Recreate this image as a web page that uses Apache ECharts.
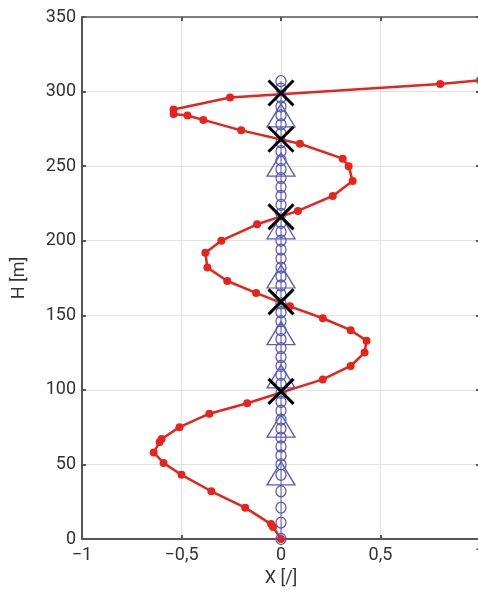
<!DOCTYPE html>
<html>
<head>
<meta charset="utf-8">
<script src="https://cdn.jsdelivr.net/npm/echarts@6/dist/echarts.min.js"></script>
<style>html,body{margin:0;padding:0;background:#fff;overflow:hidden}#c{width:478px;height:591px}</style>
</head>
<body>
<div id="c"></div>
<script>
// Red mode shape: height H [m] and displacement X [/]
const redH = [0, 8, 10, 21, 32, 43, 51, 58, 65, 67, 75, 84, 91, 107, 116, 125, 133, 140, 148, 156, 165, 173, 182, 192, 200, 211, 220, 230, 240, 250, 255, 265, 274, 281, 284, 285, 288, 296, 305, 307.5];
const redX = [0, -0.04, -0.05, -0.18, -0.35, -0.50, -0.59, -0.64, -0.61, -0.60, -0.51, -0.36, -0.17, 0.21, 0.35, 0.42, 0.43, 0.35, 0.21, 0.045, -0.125, -0.27, -0.37, -0.38, -0.30, -0.12, 0.085, 0.26, 0.36, 0.34, 0.31, 0.095, -0.20, -0.39, -0.47, -0.54, -0.54, -0.256, 0.80, 1.0];
// Blue circles (nodes) along the axis X = 0
const circleH = [0, 11, 21, 32, 43, 50, 56, 62, 68, 74, 80, 86, 92, 98, 104, 110, 116, 122, 128, 134, 140, 146, 152, 158, 164, 170, 176, 182, 188, 194, 200, 206, 212, 218, 224, 230, 236, 242, 248, 254, 260, 266, 272, 278, 284, 290, 296, 302, 307];
// Blue triangles
const triangleH = [44, 76, 109, 138, 176, 209, 251, 284];
// Black crosses
const crossH = [99, 159, 216, 268, 299];
const axisX = 0;
// Axis ticks
const xTicks = [-1, -0.5, 0, 0.5, 1];
const yTicks = [0, 50, 100, 150, 200, 250, 300, 350];

const fmt = v => String(v).replace('-', '\u2212').replace('.', ',');
const FONT = 'Roboto';
const BLUE = '#5a5ab8';
const chart = echarts.init(document.getElementById('c'), null, {renderer: 'canvas'});
const gridLine = {show: true, lineStyle: {color: '#e2e2e2', width: 1}};
chart.setOption({
  animation: false,
  backgroundColor: '#fff',
  grid: {left: 82, right: -2, top: 17, bottom: 52, containLabel: false, outerBoundsMode: 'none'},
  xAxis: [{
    type: 'value', min: xTicks[0], max: xTicks[xTicks.length - 1], interval: 0.5,
    position: 'bottom',
    name: 'X [/]', nameLocation: 'middle', nameGap: 30,
    nameTextStyle: {fontFamily: FONT, fontSize: 18, color: '#333'},
    axisLine: {show: true, onZero: false, lineStyle: {color: '#555', width: 2}},
    axisTick: {show: true, inside: true, length: 4, lineStyle: {color: '#555', width: 2}},
    axisLabel: {fontFamily: FONT, fontSize: 18, color: '#333', margin: 7, formatter: fmt,
                showMaxLabel: true, showMinLabel: true, hideOverlap: false},
    splitLine: gridLine
  }, {
    type: 'value', min: -1, max: 1, interval: 0.5, position: 'top',
    axisLine: {show: true, onZero: false, lineStyle: {color: '#555', width: 1.5}},
    axisTick: {show: true, inside: true, length: 4, lineStyle: {color: '#555', width: 2}},
    axisLabel: {show: false}, splitLine: {show: false}
  }],
  yAxis: [{
    type: 'value', min: yTicks[0], max: yTicks[yTicks.length - 1], interval: 50,
    position: 'left',
    name: 'H [m]', nameLocation: 'middle', nameGap: 54, nameRotate: 90,
    nameTextStyle: {fontFamily: FONT, fontSize: 18, color: '#333'},
    axisLine: {show: true, onZero: false, lineStyle: {color: '#555', width: 2}},
    axisTick: {show: true, inside: true, length: 4, lineStyle: {color: '#555', width: 2}},
    axisLabel: {fontFamily: FONT, fontSize: 18, color: '#333', margin: 6, formatter: fmt},
    splitLine: gridLine
  }, {
    type: 'value', min: 0, max: 350, interval: 50, position: 'right',
    axisLine: {show: true, onZero: false, lineStyle: {color: '#555', width: 1.5}},
    axisTick: {show: true, inside: true, length: 4, lineStyle: {color: '#555', width: 2}},
    axisLabel: {show: false}, splitLine: {show: false}
  }],
  series: [
    {
      type: 'line', data: redH.map((h, i) => [redX[i], h]),
      smooth: false, symbol: 'circle', symbolSize: 8, showSymbol: true,
      lineStyle: {color: '#e8231c', width: 2.5},
      itemStyle: {color: '#e8231c'}, z: 2, clip: true
    },
    {
      type: 'line', data: circleH.map(h => [axisX, h]),
      showSymbol: false, symbol: 'none',
      lineStyle: {color: BLUE, width: 1}, z: 3
    },
    {
      type: 'scatter', data: circleH.map(h => [axisX, h]),
      symbol: 'circle', symbolSize: [10, 11],
      itemStyle: {color: 'rgba(0,0,0,0)', borderColor: BLUE, borderWidth: 1.3, opacity: 1}, z: 3
    },
    {
      type: 'scatter', data: triangleH.map(h => [axisX, h]),
      symbol: 'triangle', symbolSize: [28, 23],
      itemStyle: {color: 'rgba(0,0,0,0)', borderColor: BLUE, borderWidth: 1.3, opacity: 1}, z: 4
    },
    {
      type: 'scatter', data: crossH.map(h => [axisX, h]),
      symbol: 'path://M0,0L10,10M10,0L0,10', symbolSize: 25,
      itemStyle: {color: 'rgba(0,0,0,0)', borderColor: '#000', borderWidth: 3, opacity: 1}, z: 5
    }
  ]
});
</script>
</body>
</html>
